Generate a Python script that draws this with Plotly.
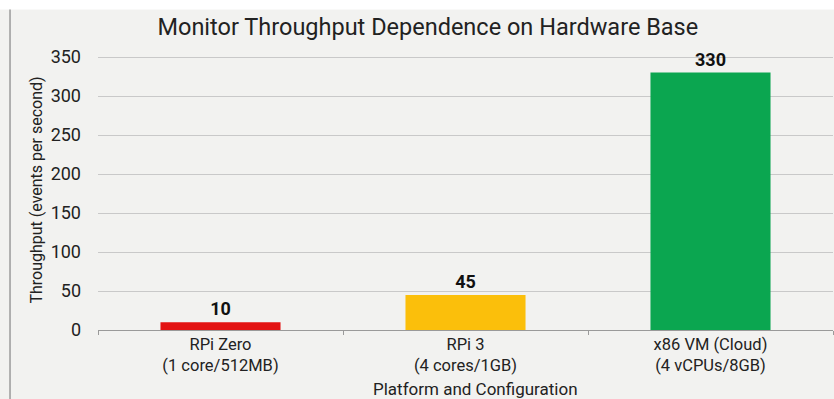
import plotly.graph_objects as go

categories = ["RPi Zero<br>(1 core/512MB)", "RPi 3<br>(4 cores/1GB)", "x86 VM (Cloud)<br>(4 vCPUs/8GB)"]
throughput = [10, 45, 330]
bar_colors = ["#e31212", "#fbbf0b", "#0ba650"]
y_ticks = [0, 50, 100, 150, 200, 250, 300, 350]

BG = "#f2f2f0"
TXT = "#222222"
FONT = "Roboto"

fig = go.Figure(go.Bar(
    x=categories, y=throughput,
    marker=dict(color=bar_colors, line=dict(width=0)),
    text=[str(v) for v in throughput],
    textposition="outside",
    textfont=dict(family=FONT, size=18, color="#111111", weight="bold"),
    cliponaxis=False,
    width=0.49,
))

fig.update_layout(
    width=834, height=399,
    margin=dict(l=98, r=1, t=50, b=69),
    paper_bgcolor=BG, plot_bgcolor=BG,
    font=dict(family=FONT, color=TXT),
    title=dict(text="Monitor Throughput Dependence on Hardware Base",
               x=0.513, xanchor="center", y=0.932, yanchor="middle",
               font=dict(family=FONT, size=23.5, color=TXT)),
    showlegend=False,
    shapes=[
        dict(type="rect", xref="paper", yref="paper", x0=-0.2, x1=1.01, y0=1.145, y1=1.3,
             line=dict(width=0), fillcolor="white", layer="below"),
        dict(type="line", xref="paper", yref="paper", x0=-0.1197, x1=-0.1197, y0=-0.3, y1=1.145,
             line=dict(width=1.5, color="#9a9a9a")),
    ],
    annotations=[
        dict(text="Platform and Configuration", xref="paper", yref="paper",
             x=0.5136, y=-0.21, xanchor="center", yanchor="middle", showarrow=False,
             font=dict(family=FONT, size=17, color=TXT)),
    ],
)
fig.update_xaxes(
    showgrid=False, showline=True, linecolor="#9a9a9a", linewidth=1,
    ticks="outside", tickson="boundaries", ticklen=4, tickcolor="#9a9a9a",
    tickfont=dict(family=FONT, size=16.5, color=TXT), ticklabelstandoff=-1,
)
fig.update_yaxes(
    range=[0, 359], tickvals=y_ticks, showgrid=True, gridcolor="#c9c9c9", gridwidth=1,
    zeroline=False, showline=False, ticks="", ticklabelstandoff=16,
    tickfont=dict(family=FONT, size=18, color=TXT),
    title=dict(text="Throughput (events per second)", standoff=4,
               font=dict(family=FONT, size=16, color=TXT)),
)

fig.write_html("out.html")
